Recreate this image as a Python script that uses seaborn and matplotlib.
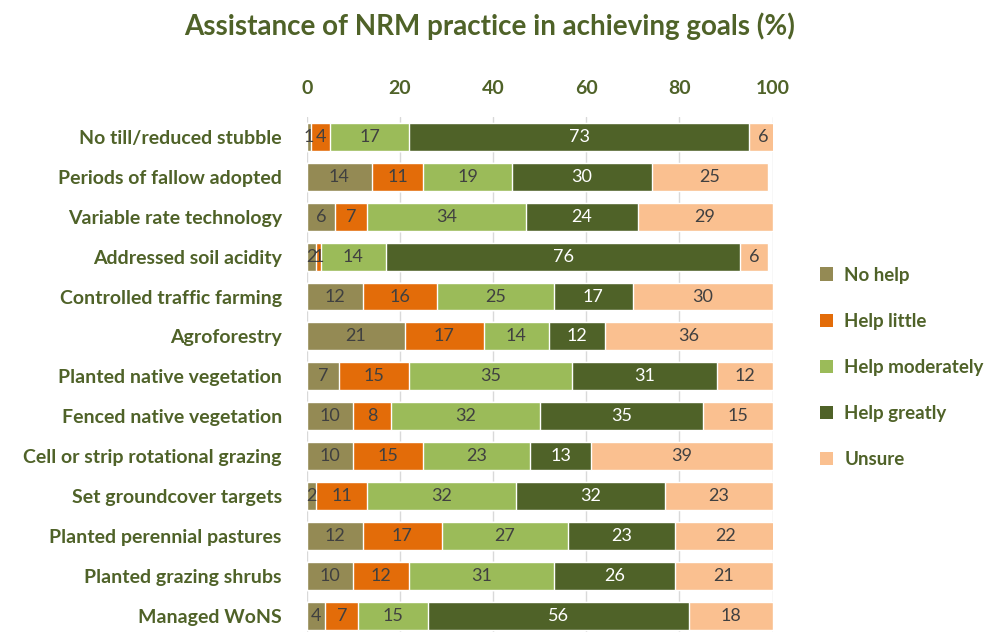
import numpy as np
import pandas as pd
import matplotlib
matplotlib.use("Agg")
import matplotlib.pyplot as plt
import seaborn as sns
from matplotlib.patches import Patch

practices = ["No till/reduced stubble", "Periods of fallow adopted", "Variable rate technology",
             "Addressed soil acidity", "Controlled traffic farming", "Agroforestry",
             "Planted native vegetation", "Fenced native vegetation", "Cell or strip rotational grazing",
             "Set groundcover targets", "Planted perennial pastures", "Planted grazing shrubs",
             "Managed WoNS"]
responses = ["No help", "Help little", "Help moderately", "Help greatly", "Unsure"]

no_help = [1, 14, 6, 2, 12, 21, 7, 10, 10, 2, 12, 10, 4]
help_little = [4, 11, 7, 1, 16, 17, 15, 8, 15, 11, 17, 12, 7]
help_moderately = [17, 19, 34, 14, 25, 14, 35, 32, 23, 32, 27, 31, 15]
help_greatly = [73, 30, 24, 76, 17, 12, 31, 35, 13, 32, 23, 26, 56]
unsure = [6, 25, 29, 6, 30, 36, 12, 15, 39, 23, 22, 21, 18]

colors = ["#948A54", "#E36C09", "#9BBB59", "#4F6228", "#FAC090"]
green = "#4F6228"

df = pd.DataFrame({"practice": practices, "No help": no_help, "Help little": help_little,
                   "Help moderately": help_moderately, "Help greatly": help_greatly,
                   "Unsure": unsure})
cum = df[responses].cumsum(axis=1)

sns.set_style("whitegrid")
plt.rcParams["font.family"] = ["Lato", "DejaVu Sans"]

fig = plt.figure(figsize=(10.06, 6.32), dpi=100)
ax = fig.add_axes([0.305, -0.006, 0.463, 0.821])

# draw cumulative bars from the last series to the first so they stack
for i in reversed(range(len(responses))):
    sns.barplot(x=cum[responses[i]], y=df["practice"], color=colors[i], orient="h",
                width=0.7, saturation=1, ax=ax, zorder=2)

for i, r in enumerate(responses):
    for j, v in enumerate(df[r]):
        c = cum[r].iloc[j] - v / 2
        ax.text(c, j, f"{v}", ha="center", va="center", fontsize=13,
                color="white" if r == "Help greatly" else "#404040", zorder=3)

ax.set_xlim(0, 100)
ax.set_ylim(12.5, -0.5)
ax.set_xticks([0, 20, 40, 60, 80, 100])
ax.xaxis.tick_top()
ax.tick_params(axis="x", length=0, pad=14, labelsize=14, labelcolor=green)
ax.tick_params(axis="y", length=0, pad=18, labelsize=14, labelcolor=green)
for lab in ax.get_xticklabels() + ax.get_yticklabels():
    lab.set_fontweight("bold")
ax.set_xlabel("")
ax.set_ylabel("")
ax.grid(axis="x", color="#D9D9D9", linewidth=1)
ax.grid(axis="y", visible=False)
for s in ax.spines.values():
    s.set_visible(False)

handles = [Patch(facecolor=c, edgecolor="none") for c in colors]
leg = fig.legend(handles, responses, loc="center left", bbox_to_anchor=(0.815, 0.419),
                 frameon=False, fontsize=13.5, handlelength=0.7, handleheight=0.7,
                 labelspacing=1.55, handletextpad=0.6, borderaxespad=0, borderpad=0)
for t in leg.get_texts():
    t.set_color(green)
    t.set_fontweight("bold")

fig.text(0.487, 0.958, "Assistance of NRM practice in achieving goals (%)", ha="center",
         va="center", fontsize=20, fontweight="bold", color=green)

fig.savefig("out.png", dpi=100)
